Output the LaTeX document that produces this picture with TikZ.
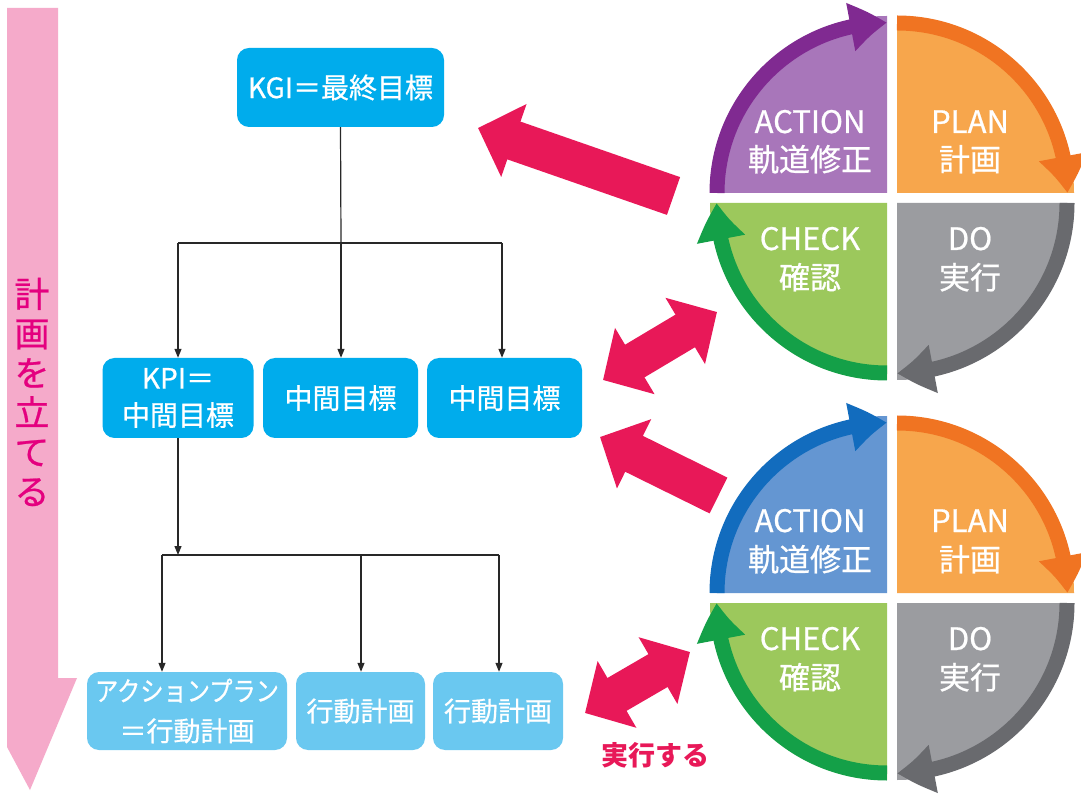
\documentclass[tikz,border=0pt]{standalone}
\usepackage{graphicx}
\usepackage{fontspec}
\setmainfont{Noto Sans CJK JP}
\newfontfamily\medfont{Noto Sans CJK JP}[FakeBold=0.7]
\usetikzlibrary{arrows.meta,bending,calc}
\definecolor{actfill}{RGB}{168,118,186}
\definecolor{actband}{RGB}{128,42,145}
\definecolor{act2fill}{RGB}{100,150,210}
\definecolor{act2band}{RGB}{18,108,190}
\definecolor{planfill}{RGB}{247,166,76}
\definecolor{planband}{RGB}{240,116,34}
\definecolor{dofill}{RGB}{155,156,160}
\definecolor{doband}{RGB}{105,106,110}
\definecolor{chkfill}{RGB}{156,200,92}
\definecolor{chkband}{RGB}{20,160,72}
\definecolor{kgiblue}{RGB}{0,172,236}
\definecolor{botblue}{RGB}{106,200,240}
\definecolor{redc}{RGB}{232,24,88}
\definecolor{pinkarrow}{RGB}{245,170,202}
\definecolor{pinktext}{RGB}{228,0,127}
\definecolor{linec}{RGB}{40,40,40}
\begin{document}
\begin{tikzpicture}[x=1pt,y=1pt,
  topbox/.style={fill=kgiblue, rounded corners=12pt, text=white, align=center, inner sep=0pt, font=\medfont\fontsize{28}{37}\selectfont},
  botbox/.style={fill=botblue, rounded corners=12pt, text=white, align=center, inner sep=0pt, font=\medfont\fontsize{27}{40}\selectfont},
  tree/.style={draw=linec, line width=1.2pt},
  treearrow/.style={tree, -{Triangle[width=7pt,length=9pt]}},
  band/.style={line width=15pt, -{Triangle[width=46pt,length=37pt,bend]}},
  qtext/.style={text=white, anchor=base, inner sep=0pt, font=\medfont\fontsize{31}{31}\selectfont},
  redarrow/.style={draw=redc, line width=40pt, -{Triangle[width=75pt,length=38pt]}},
  redboth/.style={draw=redc, line width=38pt, {Triangle[width=75pt,length=37pt]}-{Triangle[width=75pt,length=37pt]}}
]
\useasboundingbox (0,0) rectangle (1081,793);
\clip (0,0) rectangle (1081,793);
\fill[white] (0,0) rectangle (1081,793);

% left pink arrow
\fill[pinkarrow] (7,785) -- (58,785) -- (58,115) -- (77,115) -- (30,3) -- (7,46) -- cycle;
\node[text=pinktext, align=center, inner sep=0pt, font=\medfont\fontsize{35}{39.5}\selectfont] (plan) at (32,401) {計\\画\\を\\立\\て\\る};

% tree boxes
\node[topbox, minimum width=207pt, minimum height=79pt] (kgi) at (340.5,705.5) {KGI＝最終目標};
\node[topbox, minimum width=151pt, minimum height=80pt] (kpi) at (178,395) {KPI＝\\中間目標};
\node[topbox, minimum width=155pt, minimum height=80pt] (m2) at (340.5,395) {中間目標};
\node[topbox, minimum width=155pt, minimum height=80pt] (m3) at (504.5,395) {中間目標};
\node[botbox, minimum width=200pt, minimum height=78pt] (b1) at (187,82) {\scalebox{0.86}[1]{アクションプラン}\\＝行動計画};
\node[botbox, minimum width=129pt, minimum height=78pt] (b2) at (360.5,82) {行動計画};
\node[botbox, minimum width=130pt, minimum height=78pt] (b3) at (498,82) {行動計画};

% tree connectors
\coordinate (j1) at (341,550);
\coordinate (j1l) at (178,550);
\coordinate (j1r) at (502,550);
\draw[tree] (kgi.south) -- (j1);
\draw[tree] (j1l) -- (j1r);
\draw[treearrow] (j1l) -- (j1l |- kpi.north);
\draw[treearrow] (j1) -- (j1 |- m2.north);
\draw[treearrow] (j1r) -- (j1r |- m3.north);
\coordinate (j2) at (178,238);
\coordinate (j2l) at (162,238);
\coordinate (j2m) at (361,238);
\coordinate (j2r) at (499,238);
\draw[treearrow] (kpi.south) -- (j2);
\draw[tree] (j2l) -- (j2r);
\draw[treearrow] (j2l) -- (j2l |- b1.north);
\draw[treearrow] (j2m) -- (j2m |- b2.north);
\draw[treearrow] (j2r) -- (j2r |- b3.north);

% top PDCA circle, centre (892,595)
\fill[actfill] (887,600) -- (710,600) arc[start angle=180,end angle=90,radius=177] -- cycle;
\fill[planfill] (897,600) -- (897,777) arc[start angle=90,end angle=0,radius=177] -- cycle;
\fill[dofill] (897,590) -- (1074,590) arc[start angle=0,end angle=-90,radius=177] -- cycle;
\fill[chkfill] (887,590) -- (887,413) arc[start angle=270,end angle=180,radius=177] -- cycle;
\draw[band, actband] (717,600) arc[start angle=180,end angle=90,radius=170];
\draw[band, planband] (897,770) arc[start angle=90,end angle=0,radius=170];
\draw[band, doband] (1067,590) arc[start angle=0,end angle=-90,radius=170];
\draw[band, chkband] (887,420) arc[start angle=270,end angle=180,radius=170];
\node[qtext] (a1) at (810,660) {ACTION};
\node[qtext] (a1j) at (810,622) {軌道修正};
\node[qtext] (p1) at (970,660) {PLAN};
\node[qtext] (p1j) at (970,622) {計画};
\node[qtext] (c1) at (810,543) {CHECK};
\node[qtext] (c1j) at (810,504) {確認};
\node[qtext] (d1) at (970,543) {DO};
\node[qtext] (d1j) at (970,504) {実行};

% bottom PDCA circle, centre (892,195)
\fill[act2fill] (887,200) -- (710,200) arc[start angle=180,end angle=90,radius=177] -- cycle;
\fill[planfill] (897,200) -- (897,377) arc[start angle=90,end angle=0,radius=177] -- cycle;
\fill[dofill] (897,190) -- (1074,190) arc[start angle=0,end angle=-90,radius=177] -- cycle;
\fill[chkfill] (887,190) -- (887,13) arc[start angle=270,end angle=180,radius=177] -- cycle;
\draw[band, act2band] (717,200) arc[start angle=180,end angle=90,radius=170];
\draw[band, planband] (897,370) arc[start angle=90,end angle=0,radius=170];
\draw[band, doband] (1067,190) arc[start angle=0,end angle=-90,radius=170];
\draw[band, chkband] (887,20) arc[start angle=270,end angle=180,radius=170];
\node[qtext] (a2) at (810,261) {ACTION};
\node[qtext] (a2j) at (810,222) {軌道修正};
\node[qtext] (p2) at (970,261) {PLAN};
\node[qtext] (p2j) at (970,222) {計画};
\node[qtext] (c2) at (810,143) {CHECK};
\node[qtext] (c2j) at (810,104) {確認};
\node[qtext] (d2) at (970,143) {DO};
\node[qtext] (d2j) at (970,104) {実行};

% red arrows
\coordinate (r1t) at (673.5,597);
\coordinate (r1h) at (478,665);
\draw[redarrow] (r1t) -- (r1h);
\coordinate (r2l) at (603,413);
\coordinate (r2r) at (717,481);
\draw[redboth] (r2l) -- (r2r);
\coordinate (r3t) at (718.5,297.5);
\coordinate (r3h) at (600,356);
\draw[redarrow] (r3t) -- (r3h);
\coordinate (r4l) at (585,80);
\coordinate (r4r) at (690,141);
\draw[redboth] (r4l) -- (r4r);
\node[text=redc, font=\fontsize{27}{27}\selectfont\bfseries, inner sep=0pt] (exec) at (655,38) {実行する};
\end{tikzpicture}
\end{document}
